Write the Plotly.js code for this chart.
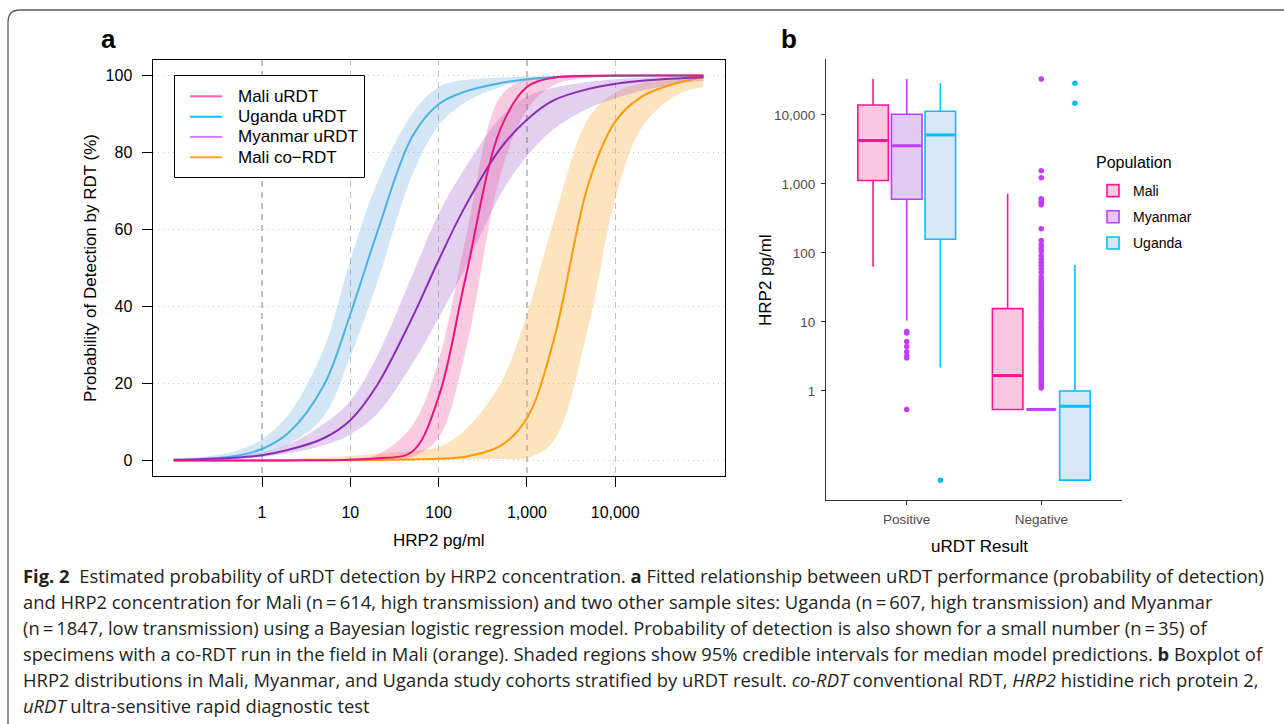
<!DOCTYPE html>
<html>
<head>
<meta charset="utf-8">
<script src="https://cdn.plot.ly/plotly-3.0.1.min.js"></script>
<style>
html, body { margin: 0; padding: 0; background: #ffffff; }
#chart { width: 1284px; height: 724px; }
</style>
</head>
<body>
<div id="chart"></div>
<script>
// ---------- Panel a: probability of detection curves ----------
const hrp2Conc = [0.1, 0.2, 0.5, 1, 2, 5, 10, 20, 50, 100, 200, 500, 1000, 2000, 5000, 10000, 20000, 50000, 100000];

const maliMed = [0, 0, 0.01, 0.02, 0.04, 0.1, 0.25, 0.6, 2.3, 16.5, 47, 86, 97, 99.4, 99.9, 100, 100, 100, 100];
const maliHi  = [0, 0.01, 0.02, 0.04, 0.08, 0.25, 0.6, 1.5, 9, 26, 57, 94.5, 99, 99.7, 99.9, 100, 100, 100, 100];
const maliLo  = [0, 0, 0, 0.01, 0.02, 0.04, 0.1, 0.3, 1.0, 6, 28, 74, 91, 97.5, 99.3, 99.7, 99.9, 100, 100];

const ugandaMed = [0.2, 0.4, 1.2, 3.0, 7.2, 19.5, 38, 59, 84, 92.5, 95.8, 98, 99, 99.5, 99.8, 99.9, 100, 100, 100];
const ugandaHi  = [0.4, 0.9, 2.5, 5.5, 12, 29, 52, 72, 90, 97, 98.8, 99.4, 99.7, 99.9, 100, 100, 100, 100, 100];
const ugandaLo  = [0.05, 0.15, 0.6, 1.8, 4.2, 11.5, 27, 46, 74, 87, 93, 97, 98.5, 99.2, 99.6, 99.8, 99.9, 100, 100];

const myanmarMed = [0.2, 0.35, 0.75, 1.4, 2.8, 5.8, 10.5, 19.5, 37, 52, 66, 81, 88.5, 93.5, 96.5, 97.8, 98.6, 99.2, 99.5];
const myanmarHi  = [0.3, 0.55, 1.2, 2.1, 4.2, 9.5, 15.5, 27, 48, 64, 76, 89, 94.5, 96.8, 98.3, 99, 99.4, 99.7, 99.8];
const myanmarLo  = [0.1, 0.2, 0.5, 0.95, 1.9, 4.0, 6.8, 12, 25, 37, 50, 69, 79, 86, 91.5, 94, 96, 97.8, 98.6];

const coRdtMed = [0.01, 0.01, 0.02, 0.03, 0.05, 0.08, 0.1, 0.15, 0.3, 0.5, 1.0, 3.8, 11, 31, 72, 88, 94.5, 98, 99.5];
const coRdtHi  = [0.05, 0.08, 0.15, 0.25, 0.4, 0.8, 1.2, 1.8, 2.5, 3.5, 8, 20, 38, 62, 89, 95.5, 98, 99.3, 99.8];
const coRdtLo  = [0, 0, 0, 0.01, 0.02, 0.04, 0.06, 0.1, 0.15, 0.2, 0.3, 0.4, 0.6, 5, 35, 68, 86.5, 95, 97];

const curveNames = ['Mali uRDT', 'Uganda uRDT', 'Myanmar uRDT', 'Mali co\u2212RDT'];
const xTickVals = [1, 10, 100, 1000, 10000];
const xTickText = ['1', '10', '100', '1,000', '10,000'];
const yTickVals = [0, 20, 40, 60, 80, 100];

// ---------- Panel b: boxplot summary statistics ----------
const groups = ['Positive', 'Negative'];
const populations = ['Mali', 'Myanmar', 'Uganda'];

const maliQ1 = [1120, 0.54];
const maliMedian = [4250, 1.67];
const maliQ3 = [13900, 15.6];
const maliLowWhisker = [63, 0.54];
const maliHighWhisker = [33000, 720];

const myanmarQ1 = [600, 0.54];
const myanmarMedian = [3570, 0.54];
const myanmarQ3 = [10200, 0.54];
const myanmarLowWhisker = [10.4, 0.54];
const myanmarHighWhisker = [33000, 0.54];

const ugandaQ1 = [158, 0.051];
const ugandaMedian = [5130, 0.60];
const ugandaQ3 = [11300, 1.0];
const ugandaLowWhisker = [2.18, 0.051];
const ugandaHighWhisker = [28700, 67];

const myanmarPosOutliers = [7.3, 6.9, 5.2, 4.4, 3.7, 3.2, 3.0, 0.54];
const ugandaPosOutliers = [0.051];
const myanmarNegOutliers = [33000, 1550, 1230, 610, 560, 520, 500, 224, 151, 131, 118, 107, 92, 81, 72, 65, 59, 52, 45, 41, 38, 35,
  32, 30, 28, 26, 24, 22, 20.5, 19, 17.5, 16, 15, 14, 13, 12, 11, 10, 9.3, 8.6, 8, 7.4, 6.8, 6.3, 5.8, 5.4, 5.0, 4.6,
  4.3, 4.0, 3.7, 3.4, 3.1, 2.9, 2.7, 2.5, 2.3, 2.1, 1.95, 1.8, 1.65, 1.52, 1.4, 1.3, 1.2, 1.1];
const ugandaNegOutliers = [28700, 14800];
const bTickVals = [1, 10, 100, 1000, 10000];
const bTickText = ['1', '10', '100', '1,000', '10,000'];

// ---------- helpers (pixel -> paper) ----------
const W = 1284, H = 724;
const px = v => v / W;
const py = v => 1 - v / H;

const lineColors = ['#e3177f', '#4cb2e2', '#8a2db4', '#ff9a00'];
const legendColors = ['#ff5fae', '#11c0ff', '#d27bff', '#ffa31a'];
const bandColors = ['rgba(240,90,160,0.32)', 'rgba(70,150,215,0.24)', 'rgba(150,80,200,0.27)', 'rgba(253,170,60,0.33)'];

const meds = [maliMed, ugandaMed, myanmarMed, coRdtMed];
const his = [maliHi, ugandaHi, myanmarHi, coRdtHi];
const los = [maliLo, ugandaLo, myanmarLo, coRdtLo];

const traces = [];
const bandOrder = [3, 1, 2, 0];
bandOrder.forEach(i => {
  traces.push({x: hrp2Conc, y: los[i], type: 'scatter', mode: 'lines', line: {width: 0, shape: 'spline'},
    hoverinfo: 'skip', showlegend: false, xaxis: 'x', yaxis: 'y'});
  traces.push({x: hrp2Conc, y: his[i], type: 'scatter', mode: 'lines', line: {width: 0, shape: 'spline'},
    fill: 'tonexty', fillcolor: bandColors[i], hoverinfo: 'skip', showlegend: false, xaxis: 'x', yaxis: 'y'});
});
[3, 1, 2, 0].forEach(i => {
  traces.push({x: hrp2Conc, y: meds[i], type: 'scatter', mode: 'lines', name: curveNames[i],
    line: {width: 2, color: lineColors[i], shape: 'spline'}, showlegend: false, xaxis: 'x', yaxis: 'y'});
});

// Panel b boxes
const offsets = [-0.25, 0, 0.25];
const boxWidth = 0.227;
const boxLine = ['#ff1493', '#c03dff', '#00bfff'];
const boxFill = ['#f9c9df', '#e1caef', '#d5e8f6'];
const q1s = [maliQ1, myanmarQ1, ugandaQ1];
const medsB = [maliMedian, myanmarMedian, ugandaMedian];
const q3s = [maliQ3, myanmarQ3, ugandaQ3];
const lws = [maliLowWhisker, myanmarLowWhisker, ugandaLowWhisker];
const hws = [maliHighWhisker, myanmarHighWhisker, ugandaHighWhisker];
populations.forEach((p, k) => {
  traces.push({
    type: 'box', name: p, xaxis: 'x2', yaxis: 'y2', legend: 'legend2', legendgroup: 'g' + k,
    x: groups.map((g, gi) => gi + 1 + offsets[k]),
    q1: q1s[k], median: medsB[k], q3: q3s[k], lowerfence: lws[k], upperfence: hws[k],
    width: boxWidth, boxpoints: false,
    line: {color: boxLine[k], width: 1.6}, fillcolor: boxFill[k],
    whiskerwidth: 0
  });
});
// thicker median bars (ggplot style)
populations.forEach((p, k) => {
  groups.forEach((g, gi) => {
    const c = gi + 1 + offsets[k];
    traces.push({type: 'scatter', mode: 'lines', xaxis: 'x2', yaxis: 'y2', showlegend: false, hoverinfo: 'skip',
      x: [c - boxWidth / 2 + 0.006, c + boxWidth / 2 - 0.006], y: [medsB[k][gi], medsB[k][gi]],
      line: {color: boxLine[k], width: 3}});
  });
});
const outlierSets = [
  {pop: 1, grp: 0, vals: myanmarPosOutliers},
  {pop: 2, grp: 0, vals: ugandaPosOutliers},
  {pop: 1, grp: 1, vals: myanmarNegOutliers},
  {pop: 2, grp: 1, vals: ugandaNegOutliers}
];
outlierSets.forEach(o => {
  traces.push({
    type: 'scatter', mode: 'markers', xaxis: 'x2', yaxis: 'y2', showlegend: false,
    x: o.vals.map(() => o.grp + 1 + offsets[o.pop]), y: o.vals,
    marker: {color: boxLine[o.pop], size: 5.5}, hoverinfo: 'y'
  });
});

const capFont = {family: '"Open Sans", Lato, sans-serif', size: 18.4, color: '#231f20'};
const captionLines = [
  '<b>Fig. 2</b>  Estimated probability of uRDT detection by HRP2 concentration. <b>a</b> Fitted relationship between uRDT performance (probability of detection)',
  'and HRP2 concentration for Mali (n\u2009=\u2009614, high transmission) and two other sample sites: Uganda (n\u2009=\u2009607, high transmission) and Myanmar',
  '(n\u2009=\u20091847, low transmission) using a Bayesian logistic regression model. Probability of detection is also shown for a small number (n\u2009=\u200935) of',
  'specimens with a co-RDT run in the field in Mali (orange). Shaded regions show 95% credible intervals for median model predictions. <b>b</b> Boxplot of',
  'HRP2 distributions in Mali, Myanmar, and Uganda study cohorts stratified by uRDT result. <i>co-RDT</i> conventional RDT, <i>HRP2</i> histidine rich protein 2,',
  '<i>uRDT</i> ultra-sensitive rapid diagnostic test'
];
const captionY = [575, 601, 627, 653, 679, 705];

const fontA = {family: '"Liberation Sans", Arial, sans-serif', color: '#000'};
const annotations = [
  {text: '<b>a</b>', x: px(99), y: py(39), xref: 'paper', yref: 'paper', xanchor: 'left', yanchor: 'middle', showarrow: false,
    font: {family: '"Liberation Sans", Arial, sans-serif', size: 26, color: '#000'}},
  {text: '<b>b</b>', x: px(779), y: py(39), xref: 'paper', yref: 'paper', xanchor: 'left', yanchor: 'middle', showarrow: false,
    font: {family: '"Liberation Sans", Arial, sans-serif', size: 26, color: '#000'}},
  {text: 'Probability of Detection by RDT (%)', x: px(90), y: py(268), xref: 'paper', yref: 'paper', textangle: -90,
    xanchor: 'center', yanchor: 'middle', showarrow: false, font: Object.assign({size: 17}, fontA)},
  {text: 'HRP2 pg/ml', x: px(439), y: py(540), xref: 'paper', yref: 'paper', xanchor: 'center', yanchor: 'middle',
    showarrow: false, font: Object.assign({size: 17}, fontA)},
  {text: 'HRP2 pg/ml', x: px(765), y: py(280), xref: 'paper', yref: 'paper', textangle: -90, xanchor: 'center', yanchor: 'middle',
    showarrow: false, font: Object.assign({size: 17}, fontA)},
  {text: 'uRDT Result', x: px(979), y: py(546), xref: 'paper', yref: 'paper', xanchor: 'center', yanchor: 'middle',
    showarrow: false, font: Object.assign({size: 17}, fontA)},
  {text: 'Population', x: px(1094), y: py(162), xref: 'paper', yref: 'paper', xanchor: 'left', yanchor: 'middle',
    showarrow: false, font: Object.assign({size: 16}, fontA)}
];
captionLines.forEach((t, i) => {
  annotations.push({text: t, x: px(21), y: py(captionY[i]), xref: 'paper', yref: 'paper', xanchor: 'left', yanchor: 'middle',
    showarrow: false, font: capFont, align: 'left'});
});

// panel a legend (drawn with shapes + annotations for exact spacing)
const legRowsY = [96.3, 116.7, 136.9, 157.3];
const shapes = [];
shapes.push({type: 'rect', xref: 'paper', yref: 'paper', x0: px(174.5), x1: px(364.5), y0: py(75.5), y1: py(177.5),
  line: {color: '#000', width: 1}, fillcolor: '#ffffff', layer: 'above'});
curveNames.forEach((n, i) => {
  shapes.push({type: 'line', xref: 'paper', yref: 'paper', x0: px(190), x1: px(222), y0: py(legRowsY[i]), y1: py(legRowsY[i]),
    line: {color: legendColors[i], width: 2}, layer: 'above'});
  annotations.push({text: n, x: px(236), y: py(legRowsY[i]), xref: 'paper', yref: 'paper', xanchor: 'left', yanchor: 'middle',
    showarrow: false, font: Object.assign({size: 17}, fontA)});
});

// rounded frame (top + left edges)
const framePath = `M ${px(8)} ${py(724)} L ${px(8)} ${py(22)} Q ${px(8)} ${py(10)} ${px(20)} ${py(10)} L ${px(1284)} ${py(10)}`;
shapes.push({type: 'path', xref: 'paper', yref: 'paper', path: framePath, line: {color: '#5a5a5a', width: 1.3}});

const tickFontA = {family: '"Liberation Sans", Arial, sans-serif', size: 16, color: '#000'};
const tickFontB = {family: '"Liberation Sans", Arial, sans-serif', size: 13.5, color: '#4d4d4d'};

const layout = {
  width: W, height: H,
  margin: {l: 0, r: 0, t: 0, b: 0},
  paper_bgcolor: '#ffffff', plot_bgcolor: 'rgba(0,0,0,0)',
  showlegend: true,
  boxmode: 'overlay',
  xaxis: {
    type: 'log', domain: [px(152.5), px(724.7)], range: [-1.24, 5.24],
    tickvals: xTickVals, ticktext: xTickText, tickfont: tickFontA,
    ticks: 'outside', ticklen: 10, tickcolor: '#000', tickwidth: 1, ticklabelstandoff: 12,
    showline: true, linecolor: '#000', linewidth: 1, mirror: true,
    showgrid: true, gridcolor: '#c0c0c0', griddash: '6px,5px', gridwidth: 1.3, zeroline: false, anchor: 'y'
  },
  yaxis: {
    domain: [py(476), py(60)], range: [-4, 104],
    tickvals: yTickVals, tickfont: tickFontA,
    ticks: 'outside', ticklen: 10, tickcolor: '#000', tickwidth: 1, ticklabelstandoff: 6,
    showline: true, linecolor: '#000', linewidth: 1, mirror: true,
    showgrid: true, gridcolor: '#c8c8c8', griddash: '1.5px,3.5px', gridwidth: 1.2, zeroline: false, anchor: 'x'
  },
  xaxis2: {
    domain: [px(826), px(1122)], range: [0.4, 2.6], anchor: 'y2',
    tickvals: groups.map((g, i) => i + 1), ticktext: groups, tickfont: tickFontB,
    ticks: 'outside', ticklen: 4, tickcolor: '#333', ticklabelstandoff: 3,
    showline: true, linecolor: '#333', linewidth: 1.1, showgrid: false, zeroline: false
  },
  yaxis2: {
    type: 'log', domain: [py(500), py(59)], range: [-1.58, 4.81], anchor: 'x2',
    tickvals: bTickVals, ticktext: bTickText, tickfont: tickFontB,
    ticks: 'outside', ticklen: 4, tickcolor: '#333', ticklabelstandoff: 3,
    showline: true, linecolor: '#333', linewidth: 1.1, showgrid: false, zeroline: false
  },
  legend2: {
    x: px(1093), y: py(175), xanchor: 'left', yanchor: 'top', traceorder: 'grouped', tracegroupgap: 5,
    bgcolor: 'rgba(0,0,0,0)', borderwidth: 0,
    font: {family: '"Liberation Sans", Arial, sans-serif', size: 14, color: '#000'}
  },
  annotations: annotations,
  shapes: shapes
};

Plotly.newPlot('chart', traces, layout, {displayModeBar: false, staticPlot: true});
</script>
</body>
</html>
